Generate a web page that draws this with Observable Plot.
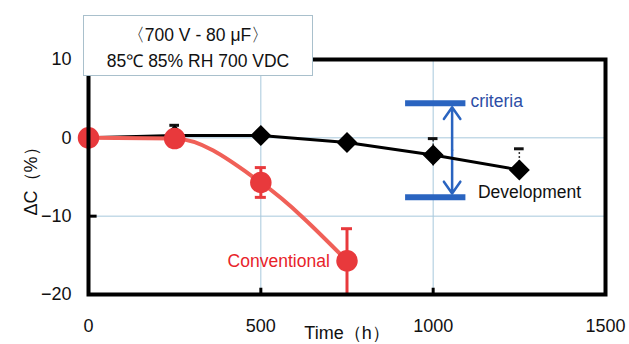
<!DOCTYPE html>
<html>
<head>
<meta charset="utf-8">
<script src="https://cdn.jsdelivr.net/npm/d3@7"></script>
<script src="https://cdn.jsdelivr.net/npm/@observablehq/plot@0.6"></script>
<style>
  html, body { margin: 0; padding: 0; background: #fff; }
  #wrap { position: relative; width: 629px; height: 344px; overflow: hidden; font-family: "Liberation Sans", Arial, sans-serif; }
  #title { position: absolute; left: 83px; top: 15px; width: 228px; height: 53px; background: #fff;
           border: 1.5px solid #a9c0cc; text-align: center; font-size: 17.5px; line-height: 26px; padding-top: 6px; color: #111; box-sizing: content-box; }
</style>
</head>
<body>
<div id="wrap">
  <div id="chart"></div>
  <div id="title"></div>
</div>
<script>
// ---- data ----
const titleLines = ["〈700 V - 80 μF〉", "85℃ 85% RH 700 VDC"];
const xTicks = [0, 500, 1000, 1500];
const yTicks = [10, 0, -10, -20];
const gridXValues = [500, 1000];
const gridYValues = [0, -10];

const devTimes  = [0, 250, 500, 750, 1000, 1250];
const devValues = [0, 0.3, 0.3, -0.6, -2.2, -4.1];
const devErrTimes = [250, 750, 1000, 1250];
const devErrHigh  = [1.6, -0.3, -0.1, -1.4];
const devErrLow   = [0.0, -1.0, -3.6, -5.2];

const convTimes  = [0, 250, 500, 750];
const convValues = [0, -0.1, -5.7, -15.7];
const convErrTimes = [500, 750];
const convErrHigh  = [-3.8, -11.6];
const convErrLow   = [-7.6, -20];

const criteriaLevels = [4.4, -7.6];
const criteriaFrom = 920, criteriaTo = 1095, criteriaArrowX = 1055;
const labelCriteria = {text: "criteria", x: 1108, y: 4.7};
const labelDevelopment = {text: "Development", x: 1130, y: -7.0};
const labelConventional = {text: "Conventional", x: 700, y: -15.8};

document.getElementById("title").innerHTML = titleLines.join("<br>");

// ---- build tables ----
const dev = devTimes.map((t, i) => ({t, v: devValues[i]}));
const devErr = devErrTimes.map((t, i) => ({t, hi: devErrHigh[i], lo: devErrLow[i]}));
const conv = convTimes.map((t, i) => ({t, v: convValues[i]}));
const convErr = convErrTimes.map((t, i) => ({t, hi: convErrHigh[i], lo: convErrLow[i]}));
const arrowMid = (criteriaLevels[0] + criteriaLevels[1]) / 2;
const critRows = criteriaLevels.map(y => ({y, x1: criteriaFrom, x2: criteriaTo}));
const arrowRows = [
  {x: criteriaArrowX, y1: arrowMid, y2: criteriaLevels[0] - 0.5},
  {x: criteriaArrowX, y1: arrowMid, y2: criteriaLevels[1] + 0.5}
];

const RED = "#e8393c", REDLINE = "#f06058", BLUE = "#2a64c0";
const font = "'Liberation Sans', Arial, sans-serif";

const chart = Plot.plot({
  width: 629, height: 344,
  marginLeft: 88, marginRight: 24, marginTop: 59, marginBottom: 50,
  style: {fontFamily: font, fontSize: "17px", color: "#111", background: "transparent"},
  x: {type: "linear", domain: [0, 1500]},
  y: {type: "linear", domain: [-20, 10]},
  marks: [
    Plot.gridX(gridXValues, {stroke: "#a8c8dc", strokeOpacity: 1, strokeWidth: 1}),
    Plot.gridY(gridYValues, {stroke: "#a8c8dc", strokeOpacity: 1, strokeWidth: 1}),
    Plot.axisX(xTicks, {tickSize: 0, tickPadding: 25, fontSize: 18, tickFormat: d => String(d), label: "Time（h）", labelAnchor: "center", labelOffset: 44, labelArrow: "none"}),
    Plot.axisY(yTicks, {tickSize: 0, tickPadding: 17, fontSize: 18, tickFormat: d => d < 0 ? "\u2212" + Math.abs(d) : String(d), label: "ΔC（%）", labelAnchor: "center", labelOffset: 64, labelArrow: "none"}),
    // small inner ticks
    Plot.ruleX(gridXValues, {y1: -20, y2: -19.2, stroke: "#000", strokeWidth: 3}),
    Plot.ruleY([-10], {x1: 0, x2: 25, stroke: "#000", strokeWidth: 3}),
    // criteria
    Plot.ruleY(critRows, {y: "y", x1: "x1", x2: "x2", stroke: BLUE, strokeWidth: 6}),
    Plot.arrow(arrowRows, {x1: "x", x2: "x", y1: "y1", y2: "y2", stroke: BLUE, strokeWidth: 2.5, headLength: 14, headAngle: 70}),
    // development
    Plot.ruleX(devErr, {x: "t", y1: "lo", y2: "hi", stroke: "#333", strokeWidth: 1.5, strokeDasharray: "2,2"}),
    Plot.ruleY(devErr, {y: "hi", x1: d => d.t - 14, x2: d => d.t + 14, stroke: "#111", strokeWidth: 3}),
    Plot.line(dev, {x: "t", y: "v", stroke: "#000", strokeWidth: 3}),
    Plot.dot(dev.slice(1), {x: "t", y: "v", symbol: "diamond2", r: 8.5, fill: "#000", stroke: "#000"}),
    // conventional
    Plot.ruleX(convErr, {x: "t", y1: "lo", y2: "hi", stroke: RED, strokeWidth: 3}),
    Plot.ruleY(convErr, {y: "hi", x1: d => d.t - 16, x2: d => d.t + 16, stroke: RED, strokeWidth: 3}),
    Plot.ruleY(convErr.filter(d => d.lo > -20), {y: "lo", x1: d => d.t - 16, x2: d => d.t + 16, stroke: RED, strokeWidth: 3}),
    Plot.line(conv, {x: "t", y: "v", stroke: REDLINE, strokeWidth: 4, curve: "monotone-x"}),
    Plot.dot(conv, {x: "t", y: "v", r: 10, fill: RED, stroke: RED}),
    // labels
    Plot.text([labelCriteria], {x: "x", y: "y", text: "text", fill: "#2d4ea6", textAnchor: "start", fontSize: 17.5}),
    Plot.text([labelDevelopment], {x: "x", y: "y", text: "text", fill: "#111", textAnchor: "start", fontSize: 17.5}),
    Plot.text([labelConventional], {x: "x", y: "y", text: "text", fill: "#e8232a", textAnchor: "end", fontSize: 17.5}),
    Plot.frame({stroke: "#000", strokeWidth: 4})
  ]
});
document.getElementById("chart").appendChild(chart);
</script>
</body>
</html>
